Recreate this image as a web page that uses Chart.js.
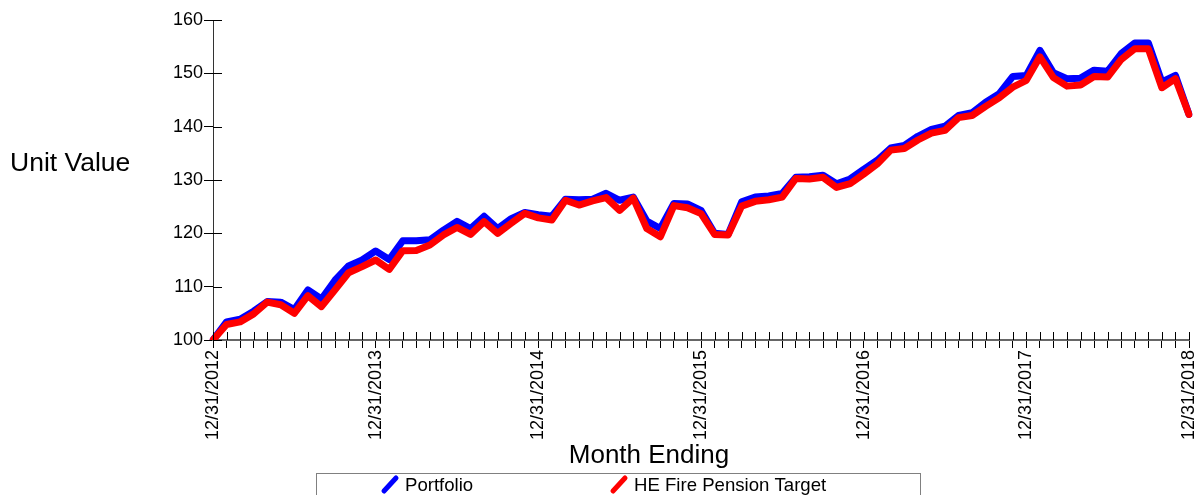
<!DOCTYPE html>
<html>
<head>
<meta charset="utf-8">
<title>Unit Value</title>
<script src="https://cdn.jsdelivr.net/npm/chart.js@4/dist/chart.umd.min.js"></script>
<style>
  body { margin: 0; background: #fff; }
  #wrap { width: 1199px; height: 495px; position: relative; }
</style>
</head>
<body>
<div id="wrap"><canvas id="unitChart"></canvas></div>
<script>
'use strict';

// month-end categories, 12/31/2012 .. 12/31/2018
const startYear = 2012;
const monthCount = 73;
const yTicks = [100, 110, 120, 130, 140, 150, 160];
const yTitle = 'Unit Value';
const xTitle = 'Month Ending';

const portfolio = [
  100, 103.4, 103.9, 105.4, 107.2, 107.1, 105.7, 109.4, 107.7, 111.2, 113.9, 115.0,
  116.7, 115.1, 118.6, 118.6, 118.8, 120.6, 122.25, 120.9, 123.2, 120.9, 122.75, 123.9,
  123.5, 123.2, 126.4, 126.3, 126.4, 127.5, 126.2, 126.8, 122.3, 120.9, 125.6, 125.5,
  124.3, 120.0, 119.8, 125.9, 126.8, 127.0, 127.5, 130.5, 130.6, 130.9, 129.3, 130.2,
  132.0, 133.7, 136.0, 136.5, 138.2, 139.5, 140.1, 142.1, 142.6, 144.6, 146.2, 149.4,
  149.6, 154.3, 150.1, 149.0, 149.1, 150.6, 150.4, 153.7, 155.7, 155.7, 148.4, 149.6,
  142.3
];

const target = [
  100, 102.9, 103.4, 104.9, 107.1, 106.6, 105.0, 108.3, 106.25, 109.4, 112.6, 113.75,
  115.0, 113.25, 116.75, 116.8, 117.8, 119.7, 121.1, 119.8, 122.2, 120.0, 121.9, 123.75,
  122.9, 122.5, 126.2, 125.3, 126.1, 126.7, 124.3, 126.6, 120.9, 119.35, 125.2, 124.8,
  123.7, 119.8, 119.7, 125.1, 126.0, 126.3, 126.8, 130.3, 130.2, 130.5, 128.6, 129.3,
  131.1, 133.0, 135.6, 135.9, 137.5, 138.8, 139.3, 141.7, 142.1, 143.8, 145.4, 147.4,
  148.7, 153.1, 149.2, 147.6, 147.8, 149.4, 149.3, 152.6, 154.6, 154.6, 147.3, 149.0,
  142.3
];

let months = [];
for (let i = 0; i < monthCount; i++) {
  let m = 11 + i; // start at december
  let y = startYear + Math.floor(m / 12);
  let mon = m % 12;
  let lastDay = new Date(y, mon + 1, 0).getDate();
  months.push((mon + 1) + '/' + lastDay + '/' + y);
}

const FONT = 'Liberation Sans, Arial, sans-serif';

// ticks that cross the axes, the horizontal y title, x title and boxed legend
const extras = {
  id: 'extras',
  afterDraw(chart) {
    const ctx = chart.ctx;
    const xs = chart.scales.x;
    const ys = chart.scales.y;
    const area = chart.chartArea;
    ctx.save();
    ctx.strokeStyle = '#000';
    ctx.lineWidth = 1;
    ctx.beginPath();
    for (let i = 0; i < xs.ticks.length; i++) {
      let px = Math.round(xs.getPixelForTick(i)) + 0.5;
      ctx.moveTo(px, area.bottom - 8);
      ctx.lineTo(px, area.bottom);
    }
    for (let i = 0; i < ys.ticks.length; i++) {
      let py = Math.round(ys.getPixelForTick(i)) + 0.5;
      ctx.moveTo(area.left, py);
      ctx.lineTo(area.left + 9, py);
    }
    ctx.stroke();

    ctx.fillStyle = '#000';
    ctx.textBaseline = 'alphabetic';
    ctx.textAlign = 'left';
    ctx.font = '26.5px ' + FONT;
    ctx.fillText(yTitle, 10, 171);

    ctx.textAlign = 'center';
    ctx.font = '26px ' + FONT;
    ctx.fillText(xTitle, 649, 463);

    // legend
    ctx.strokeStyle = '#808080';
    ctx.strokeRect(316.5, 473.5, 604, 30);
    const items = [{x: 384}, {x: 613}];
    ctx.textAlign = 'left';
    ctx.font = '18.6px ' + FONT;
    chart.data.datasets.forEach((ds, i) => {
      let lx = items[i].x;
      ctx.strokeStyle = ds.borderColor;
      ctx.lineWidth = 5;
      ctx.lineCap = 'round';
      ctx.beginPath();
      ctx.moveTo(lx, 491);
      ctx.lineTo(lx + 12, 478);
      ctx.stroke();
      ctx.fillStyle = '#000';
      ctx.fillText(ds.label, lx + 21, 491);
    });
    ctx.restore();
  }
};

let ctx = document.getElementById('unitChart').getContext('2d');

// eslint-disable-next-line no-unused-vars
let unitChart = new Chart(ctx, {
  type: 'line',
  data: {
    labels: months,
    datasets: [{
      label: 'Portfolio',
      data: portfolio,
      borderColor: '#0000ff',
      backgroundColor: '#0000ff',
      borderWidth: 7,
      pointRadius: 0,
      borderCapStyle: 'round',
      borderJoinStyle: 'round',
      tension: 0,
      order: 2
    }, {
      label: 'HE Fire Pension Target',
      data: target,
      borderColor: '#ff0000',
      backgroundColor: '#ff0000',
      borderWidth: 7,
      pointRadius: 0,
      borderCapStyle: 'round',
      borderJoinStyle: 'round',
      tension: 0,
      order: 1
    }]
  },
  options: {
    responsive: true,
    maintainAspectRatio: false,
    animation: false,
    layout: {
      padding: {top: 20, right: 10, left: 0, bottom: 0}
    },
    plugins: {
      legend: {display: false},
      tooltip: {enabled: false}
    },
    scales: {
      x: {
        type: 'category',
        offset: false,
        afterFit: (scale) => {
          scale.height = 155;
          scale.paddingRight = 0;
          scale.paddingLeft = 0;
        },
        grid: {
          drawOnChartArea: false,
          drawTicks: true,
          tickLength: 8,
          color: '#000',
          tickColor: '#000',
          lineWidth: 1
        },
        border: {display: true, color: '#666', width: 2},
        ticks: {
          autoSkip: false,
          maxRotation: 90,
          minRotation: 90,
          padding: 2,
          color: '#000',
          font: {family: FONT, size: 18},
          callback: function (val, index) {
            return index % 12 === 0 ? months[index] : '';
          }
        }
      },
      y: {
        min: yTicks[0],
        max: yTicks[yTicks.length - 1],
        afterFit: (scale) => { scale.width = 213; },
        afterBuildTicks: (scale) => {
          scale.ticks = yTicks.map(v => ({value: v}));
        },
        grid: {
          drawOnChartArea: false,
          drawTicks: true,
          tickLength: 9,
          color: '#000',
          tickColor: '#000',
          lineWidth: 1
        },
        border: {display: true, color: '#333', width: 1},
        ticks: {
          padding: 1,
          color: '#000',
          font: {family: FONT, size: 18}
        }
      }
    }
  },
  plugins: [extras]
});
</script>
</body>
</html>
